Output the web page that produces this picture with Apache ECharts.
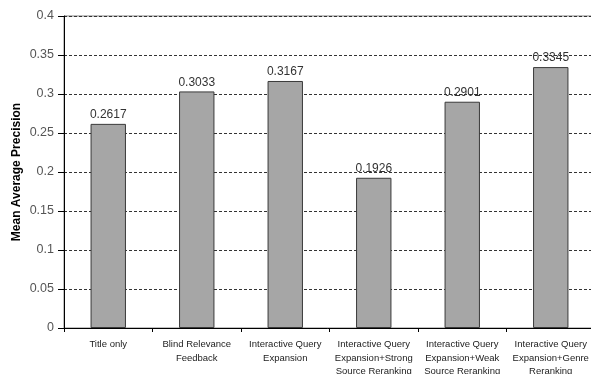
<!DOCTYPE html>
<html>
<head>
<meta charset="utf-8">
<script src="https://cdn.jsdelivr.net/npm/echarts@6/dist/echarts.min.js"></script>
<style>
  html, body { margin: 0; padding: 0; background: #fff; overflow: hidden; }
  #chart { width: 591px; height: 374px; }
</style>
</head>
<body>
<div id="chart"></div>
<script>
// Retrieval runs and their mean average precision
const categories = [
  'Title only',
  'Blind Relevance\nFeedback',
  'Interactive Query\nExpansion',
  'Interactive Query\nExpansion+Strong\nSource Reranking',
  'Interactive Query\nExpansion+Weak\nSource Reranking',
  'Interactive Query\nExpansion+Genre\nReranking'
];
const mapValues = [0.2617, 0.3033, 0.3167, 0.1926, 0.2901, 0.3345];
const yTicks = { min: 0, max: 0.4, step: 0.05 };

const chart = echarts.init(document.getElementById('chart'), null, { renderer: 'canvas' });
chart.setOption({
  animation: false,
  textStyle: { fontFamily: 'Liberation Sans, Arial, sans-serif' },
  grid: {
    left: 64, top: 16, width: 531, height: 312,
    containLabel: false,
    outerBoundsMode: 'none',
    show: true, borderColor: '#808080', borderWidth: 1, backgroundColor: 'transparent'
  },
  xAxis: {
    type: 'category',
    data: categories,
    axisLine: { lineStyle: { color: '#000', width: 1 } },
    axisTick: { show: true, length: 4, inside: false, lineStyle: { color: '#000' } },
    axisLabel: {
      interval: 0, color: '#222', fontSize: 9.5, lineHeight: 13.5, margin: 10,
      align: 'center'
    },
    splitLine: { show: false }
  },
  yAxis: {
    type: 'value',
    min: yTicks.min, max: yTicks.max, interval: yTicks.step,
    name: 'Mean Average Precision',
    nameLocation: 'middle',
    nameGap: 41,
    nameMoveOverlap: false,
    nameTextStyle: { fontWeight: 'bold', fontSize: 12, color: '#000' },
    axisLine: { show: true, lineStyle: { color: '#000', width: 1 } },
    axisTick: { show: true, length: 6, lineStyle: { color: '#000' } },
    axisLabel: { color: '#555', fontSize: 12.5, margin: 10 },
    splitLine: { show: true, lineStyle: { color: '#333', type: [3, 2], width: 1 } }
  },
  series: [{
    type: 'bar',
    data: mapValues,
    barWidth: '40%',
    itemStyle: { color: '#a6a6a6', borderColor: '#3a3a3a', borderWidth: 1 },
    label: {
      show: true, position: 'top', distance: 3,
      color: '#333', fontSize: 12,
      formatter: p => p.value.toFixed(4)
    }
  }]
});
</script>
</body>
</html>
